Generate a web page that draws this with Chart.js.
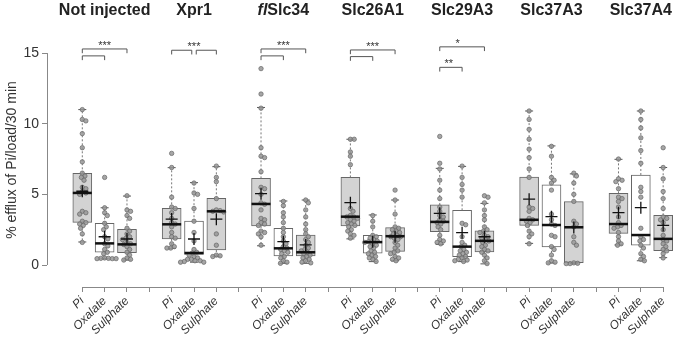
<!DOCTYPE html>
<html>
<head>
<meta charset="utf-8">
<script src="https://cdn.jsdelivr.net/npm/chart.js@4.4.0/dist/chart.umd.min.js"></script>
<style>
  html, body { margin: 0; padding: 0; background: #fff; }
  #wrap { width: 685px; height: 342px; }
</style>
</head>
<body>
<div id="wrap"><canvas id="effluxChart"></canvas></div>
<script>
// groups and conditions
const groupNames = ['Not injected', 'Xpr1', 'Slc34', 'Slc26A1', 'Slc29A3', 'Slc37A3', 'Slc37A4'];
const groupItalicPrefix = ['', '', 'fl', '', '', '', ''];
const conditionLabels = ['Pi', 'Oxalate', 'Sulphate'];
const yTickValues = [0, 5, 10, 15];

// individual oocyte values (% efflux), one list per group
const piValues = [
    [11.0, 10.3, 10.2, 9.3, 8.3, 7.3, 6.5, 6.3, 6.2, 6.0, 5.5, 5.4, 5.2, 5.1, 5.0, 3.8, 3.7, 3.6, 3.1, 3.0, 2.9, 2.8, 2.6, 2.2, 1.6],
    [7.9, 6.9, 4.8, 4.1, 4.0, 3.7, 3.3, 3.0, 2.9, 2.7, 2.3, 2.0, 1.9, 1.5, 1.3, 1.2, 1.2],
    [13.9, 12.1, 11.1, 8.3, 7.7, 7.6, 6.6, 5.5, 5.4, 5.0, 4.4, 4.3, 3.9, 3.3, 3.2, 3.0, 2.9, 2.8, 2.4, 2.3, 2.2, 2.0, 1.4],
    [8.9, 8.9, 8.0, 7.7, 7.1, 4.0, 3.8, 3.5, 3.4, 3.4, 3.3, 3.2, 3.1, 3.0, 2.9, 2.8, 2.7, 2.5, 2.4, 2.2, 2.1, 1.9],
    [9.1, 7.2, 6.8, 6.0, 5.3, 4.7, 4.1, 3.8, 3.5, 3.4, 3.2, 3.1, 3.0, 2.9, 2.7, 2.5, 2.1, 1.8, 1.7, 1.6, 1.5],
    [10.9, 10.3, 9.6, 8.9, 8.2, 7.6, 6.8, 6.2, 4.1, 4.0, 3.8, 3.3, 3.2, 3.1, 3.0, 2.8, 2.4, 2.2, 2.0, 1.5],
    [7.5, 6.1, 6.0, 5.9, 5.4, 4.8, 4.7, 4.5, 4.1, 3.4, 3.0, 2.8, 2.7, 2.6, 2.3, 2.0, 1.7, 1.5, 1.4]
];
const oxalateValues = [
    [6.2, 4.05, 3.7, 3.5, 2.95, 2.7, 2.5, 2.0, 1.85, 1.5, 1.35, 1.1, 0.9, 0.8, 0.5, 0.47, 0.47, 0.45, 0.45, 0.45],
    [5.8, 5.1, 5.0, 4.0, 3.1, 2.3, 1.7, 1.1, 0.9, 0.85, 0.7, 0.6, 0.5, 0.4, 0.4, 0.3, 0.3, 0.25, 0.2, 0.2],
    [4.5, 4.2, 3.7, 3.4, 3.0, 2.6, 2.3, 2.0, 1.7, 1.5, 1.3, 1.2, 1.1, 1.0, 0.9, 0.8, 0.6, 0.5, 0.3, 0.2, 0.12],
    [3.5, 3.1, 2.7, 2.1, 2.0, 1.9, 1.8, 1.7, 1.65, 1.6, 1.5, 1.4, 1.3, 1.2, 1.0, 0.9, 0.8, 0.7, 0.6, 0.5, 0.4, 0.25],
    [7.0, 6.2, 5.7, 5.3, 4.8, 2.95, 2.85, 2.0, 1.6, 1.4, 1.3, 1.1, 1.0, 0.9, 0.8, 0.7, 0.6, 0.5, 0.4, 0.35, 0.3, 0.25],
    [8.4, 7.7, 6.2, 6.0, 5.8, 5.3, 3.6, 3.2, 2.9, 2.8, 2.1, 2.0, 1.3, 1.1, 0.7, 0.3, 0.2, 0.15],
    [10.9, 10.3, 9.7, 9.0, 8.1, 7.2, 5.5, 5.2, 4.8, 2.6, 2.0, 1.8, 1.7, 1.4, 1.2, 0.8, 0.6, 0.4, 0.3]
];
const sulphateValues = [
    [4.9, 3.9, 3.8, 3.5, 3.3, 2.6, 2.4, 2.2, 2.0, 1.9, 1.8, 1.6, 1.5, 1.45, 1.3, 1.1, 0.9, 0.7, 0.5, 0.4, 0.35],
    [7.0, 6.2, 5.9, 4.7, 3.9, 3.85, 3.8, 3.75, 2.2, 1.4, 0.7, 0.65, 0.6],
    [4.6, 4.4, 3.9, 3.4, 2.9, 2.5, 2.2, 2.0, 1.8, 1.6, 1.4, 1.2, 1.1, 1.0, 0.9, 0.8, 0.7, 0.6, 0.5, 0.4, 0.3, 0.2, 0.15],
    [5.3, 4.6, 3.6, 2.7, 2.6, 2.5, 2.4, 2.3, 2.2, 2.1, 2.0, 2.0, 1.9, 1.8, 1.6, 1.4, 1.2, 1.0, 0.9, 0.8, 0.6, 0.5, 0.4, 0.3],
    [4.9, 4.8, 4.4, 3.9, 3.5, 3.2, 2.7, 2.5, 2.4, 2.3, 2.1, 2.0, 1.9, 1.8, 1.7, 1.6, 1.4, 1.3, 1.1, 1.0, 0.9, 0.7, 0.5, 0.3, 0.1],
    [6.5, 6.3, 5.8, 5.0, 4.5, 3.1, 2.9, 2.7, 2.0, 1.6, 1.4, 0.15, 0.12, 0.1, 0.1],
    [8.3, 6.9, 6.1, 5.2, 4.7, 4.0, 3.4, 3.3, 3.2, 3.0, 2.5, 2.1, 1.8, 1.7, 1.5, 1.3, 1.1, 1.0, 0.8, 0.5]
];

// box statistics, order: group by group, Pi / Oxalate / Sulphate
const boxQ1 =       [3.02, 0.90, 0.87,  1.84, 0.75, 1.06,  2.76, 0.64, 0.64,  2.76, 0.83, 0.97,  2.36, 0.59, 0.92,  2.80, 1.28, 0.17,  2.24, 1.40, 1.01];
const boxMedian =   [5.10, 1.53, 1.46,  2.88, 0.85, 3.80,  4.32, 1.18, 0.90,  3.42, 1.62, 2.04,  3.05, 1.30, 1.71,  3.20, 2.83, 2.67,  2.90, 2.12, 1.85];
const boxQ3 =       [6.49, 2.95, 2.52,  4.01, 3.10, 4.72,  6.13, 2.59, 2.12,  6.20, 2.10, 2.65,  4.25, 3.87, 2.42,  6.22, 5.68, 4.48,  5.07, 6.37, 3.52];
const whiskerLow =  [1.63, 0.45, 0.35,  1.18, 0.20, 0.62,  1.36, 0.12, 0.12,  1.85, 0.24, 0.30,  1.46, 0.24, 0.08,  1.53, 0.14, 0.10,  1.42, 0.30, 0.52];
const whiskerHigh = [11.0, 4.05, 4.88,  6.89, 5.83, 6.96,  11.15, 4.53, 4.60, 8.90, 3.54, 4.60,  6.84, 6.98, 4.36,  10.9, 8.43, 6.45,  7.48, 10.9, 6.90];
const boxMean =     [5.22, 2.00, 1.84,  3.25, 1.84, 3.24,  5.05, 1.65, 1.42,  4.41, 1.65, 2.00,  3.66, 2.29, 2.00,  4.66, 3.42, 2.66,  3.70, 4.06, 2.80];

// significance brackets: from slot, to slot, height
const bracketFrom =  [0, 0, 4, 5.1, 8, 8, 12, 12, 16, 16];
const bracketTo =    [2, 1, 4.9, 6, 10, 9, 14, 13, 18, 17];
const bracketLevel = [15.29, 14.8, 15.2, 15.2, 15.29, 14.8, 15.22, 14.75, 15.44, 13.99];
const starText = ['***', '***', '***', '***', '*', '**'];
const starSlot = [1, 5, 9, 13, 16.8, 16.4];
const starLevel = [15.64, 15.6, 15.64, 15.6, 15.8, 14.36];

const FONT = '"Liberation Sans", Arial, Helvetica, sans-serif';
const boxFill = ['#d3d3d3', '#ffffff', '#d3d3d3'];

// 3 conditions + 1 empty slot per group
const slotCount = groupNames.length * 4 - 1;
const slotLabels = [];
for (let s = 0; s < slotCount; s++) {
    slotLabels.push(s % 4 === 3 ? '' : conditionLabels[s % 4]);
}
const boxSlot = (i) => Math.floor(i / 3) * 4 + (i % 3);

// simple beeswarm so the dots sit side by side instead of on top of each other
const PX_PER_SLOT = 22.77, PX_PER_UNIT = 14.13, DOT = 3.9;
function swarm(values) {
    const placed = [];
    return values.map(v => {
        const yp = v * PX_PER_UNIT;
        const near = placed.filter(p => Math.abs(p.y - yp) < DOT);
        const cands = [0];
        near.forEach(p => {
            const dx = Math.sqrt(DOT * DOT - (p.y - yp) * (p.y - yp));
            cands.push(p.x + dx, p.x - dx);
        });
        cands.sort((a, b) => Math.abs(a) - Math.abs(b));
        const xp = cands.find(c => near.every(p => Math.hypot(p.x - c, p.y - yp) >= DOT - 1e-6));
        placed.push({ x: xp, y: yp });
        return xp / PX_PER_SLOT;
    });
}

const allValues = [piValues, oxalateValues, sulphateValues];
const boxes = [], fills = [], whiskers = [], caps = [], dots = [], medians = [], means = [];
for (let i = 0; i < boxQ1.length; i++) {
    const s = boxSlot(i);
    boxes.push({ x: s, y: [boxQ1[i], boxQ3[i]] });
    fills.push(boxFill[i % 3]);
    whiskers.push({ x: s, y: boxQ3[i] }, { x: s, y: whiskerHigh[i] }, { x: s, y: null },
                  { x: s, y: boxQ1[i] }, { x: s, y: whiskerLow[i] }, { x: s, y: null });
    caps.push({ x: s, y: whiskerHigh[i] }, { x: s, y: whiskerLow[i] });
    medians.push({ x: s, y: boxMedian[i] });
    means.push({ x: s, y: boxMean[i] });
    const vals = allValues[i % 3][Math.floor(i / 3)];
    const offs = swarm(vals);
    vals.forEach((v, k) => dots.push({ x: s + offs[k], y: v }));
}

const decorations = {
    id: 'decorations',
    afterDraw(chart) {
        const { ctx, scales: { x, y }, chartArea } = chart;
        ctx.save();
        // R style axis lines, only between first and last tick
        ctx.strokeStyle = '#888';
        ctx.lineWidth = 1;
        const ax = Math.round(chartArea.left - 0.5) + 0.5;
        ctx.beginPath();
        ctx.moveTo(ax, y.getPixelForValue(0));
        ctx.lineTo(ax, y.getPixelForValue(yTickValues[yTickValues.length - 1]));
        ctx.stroke();
        const ay = Math.round(chartArea.bottom - 0.5) + 0.5;
        ctx.beginPath();
        ctx.moveTo(x.getPixelForValue(0), ay);
        ctx.lineTo(x.getPixelForValue(slotCount - 1), ay);
        ctx.stroke();

        // significance brackets
        ctx.strokeStyle = '#555';
        bracketFrom.forEach((f, i) => {
            const x1 = x.getPixelForValue(f), x2 = x.getPixelForValue(bracketTo[i]);
            const yb = y.getPixelForValue(bracketLevel[i]);
            const yl = y.getPixelForValue(bracketLevel[i] - 0.3);
            ctx.beginPath();
            ctx.moveTo(x1, yl);
            ctx.lineTo(x1, yb);
            ctx.lineTo(x2, yb);
            ctx.lineTo(x2, yl);
            ctx.stroke();
        });
        ctx.fillStyle = '#333';
        ctx.font = '11px ' + FONT;
        ctx.textAlign = 'center';
        ctx.textBaseline = 'middle';
        starText.forEach((t, i) => {
            ctx.fillText(t, x.getPixelForValue(starSlot[i]), y.getPixelForValue(starLevel[i]) + 2);
        });

        // group titles
        ctx.fillStyle = '#222';
        ctx.textAlign = 'left';
        groupNames.forEach((name, g) => {
            const cx = x.getPixelForValue(g * 4 + 1);
            const pre = groupItalicPrefix[g];
            ctx.font = 'italic bold 16px ' + FONT;
            const wPre = pre ? ctx.measureText(pre).width : 0;
            ctx.font = 'bold 16px ' + FONT;
            const wName = ctx.measureText(name).width;
            let sx = cx - (wPre + wName) / 2;
            if (pre) {
                ctx.font = 'italic bold 16px ' + FONT;
                ctx.fillText(pre, sx, 11);
                sx += wPre;
                ctx.font = 'bold 16px ' + FONT;
            }
            ctx.fillText(name, sx, 11);
        });
        ctx.restore();
    }
};

const ctx = document.getElementById('effluxChart');
new Chart(ctx, {
    type: 'bar',
    data: {
        datasets: [
            {
                type: 'bar',
                data: boxes,
                backgroundColor: fills,
                borderColor: '#666',
                borderWidth: 1,
                borderSkipped: false,
                barThickness: 19,
                order: 6
            },
            {
                type: 'line',
                data: whiskers,
                borderColor: '#777',
                borderWidth: 1,
                borderDash: [2, 2],
                pointRadius: 0,
                spanGaps: false,
                order: 5
            },
            {
                type: 'scatter',
                data: caps,
                pointStyle: 'line',
                pointRadius: 4,
                pointBorderColor: '#555',
                pointBorderWidth: 1,
                order: 4
            },
            {
                type: 'scatter',
                data: dots,
                pointRadius: 2.2,
                pointBackgroundColor: 'rgba(150, 150, 150, 0.85)',
                pointBorderColor: 'rgba(105, 105, 105, 0.9)',
                pointBorderWidth: 0.8,
                order: 3
            },
            {
                type: 'scatter',
                data: medians,
                pointStyle: 'line',
                pointRadius: 9.5,
                pointBorderColor: '#111',
                pointBorderWidth: 2.5,
                order: 2
            },
            {
                type: 'scatter',
                data: means,
                pointStyle: 'cross',
                pointRadius: 6,
                pointBorderColor: '#111',
                pointBorderWidth: 1.3,
                order: 1
            }
        ]
    },
    options: {
        responsive: true,
        maintainAspectRatio: false,
        animation: false,
        events: [],
        layout: { padding: { top: 33, left: 0, right: 0, bottom: 0 } },
        plugins: {
            legend: { display: false },
            tooltip: { enabled: false }
        },
        scales: {
            x: {
                type: 'linear',
                min: -1.58,
                max: 26.44,
                offset: false,
                afterBuildTicks: (scale) => {
                    scale.ticks = slotLabels.map((_, i) => ({ value: i }));
                },
                afterFit: (scale) => { scale.height = 55; },
                ticks: {
                    autoSkip: false,
                    minRotation: 45,
                    maxRotation: 45,
                    padding: 2,
                    color: '#333',
                    font: { family: FONT, size: 12, style: 'italic' },
                    callback: (v) => slotLabels[v] ?? ''
                },
                grid: {
                    display: true,
                    drawOnChartArea: false,
                    drawTicks: true,
                    tickLength: 5,
                    color: '#888',
                    offset: false
                },
                border: { display: false }
            },
            y: {
                min: -1.557,
                max: 16.42,
                afterBuildTicks: (scale) => {
                    scale.ticks = yTickValues.map(v => ({ value: v }));
                },
                afterFit: (scale) => { scale.width = 47; },
                ticks: {
                    padding: 3,
                    color: '#333',
                    font: { family: FONT, size: 14 }
                },
                grid: {
                    drawOnChartArea: false,
                    tickLength: 5,
                    color: '#888'
                },
                border: { display: false },
                title: {
                    display: true,
                    text: '% efflux of Pi/load/30 min',
                    color: '#333',
                    font: { family: FONT, size: 14 },
                    padding: { top: 4, bottom: 0 }
                }
            }
        }
    },
    plugins: [decorations]
});
</script>
</body>
</html>
